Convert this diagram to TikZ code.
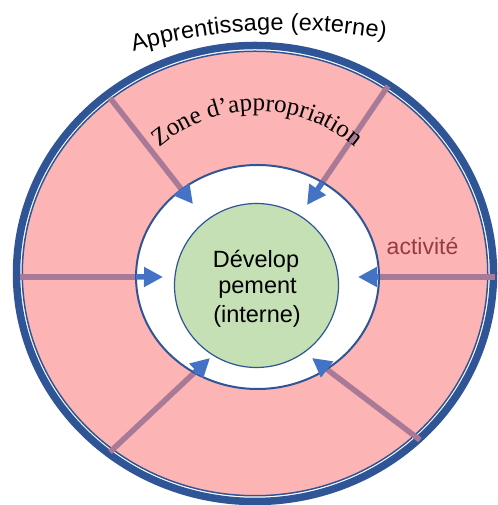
\documentclass[tikz,border=0pt]{standalone}
\usepackage{fontspec}
\setmainfont{Liberation Sans}
\newfontfamily\seriffont{Liberation Serif}
\usetikzlibrary{arrows.meta,decorations.text,intersections,calc}
\definecolor{pinkfill}{RGB}{252,180,180}
\definecolor{ringblue}{RGB}{47,85,151}
\definecolor{arrowblue}{RGB}{68,114,196}
\definecolor{spokecol}{RGB}{168,122,152}
\definecolor{greenfill}{RGB}{197,224,180}
\definecolor{acttext}{RGB}{150,60,64}
\begin{document}
\begin{tikzpicture}[x=1pt,y=1pt,
  spoke/.style={draw=spokecol, line width=5.5pt},
  headarrow/.style={draw=arrowblue, line width=5.5pt, -{Triangle[length=19pt,width=19pt]}, fill=arrowblue},
  devtext/.style={font=\fontsize{23.5}{27}\selectfont, text=black, anchor=base, inner sep=0pt},
  acttextstyle/.style={font=\fontsize{23}{27}\selectfont, text=acttext, anchor=base, inner sep=0pt}]
\useasboundingbox (0,0) rectangle (497,505);
% outer ring
\fill[pinkfill] (255,231.5) ellipse [x radius=232.75pt, y radius=222.25pt];
\draw[ringblue, line width=1.5pt] (255,231.5) ellipse [x radius=232.75pt, y radius=222.25pt];
\draw[ringblue, line width=7.5pt] (255,231.5) ellipse [x radius=238.5pt, y radius=228pt];
% spoke ends
\coordinate (o1) at (110,407); \coordinate (t1) at (193,301);
\coordinate (o2) at (388,419); \coordinate (t2) at (307,300);
\coordinate (o3) at (110,53);  \coordinate (t3) at (210,147);
\coordinate (o4) at (420,65);  \coordinate (t4) at (312,147);
\coordinate (o5) at (20,228);  \coordinate (t5) at (163,228);
\coordinate (o6) at (495,228); \coordinate (t6) at (358,228);
\foreach \i in {1,...,6}{
  \draw[spoke, name path global=s\i] (o\i) -- (t\i);
}
% zone (white ring)
\path[name path=zp, fill=white, draw=ringblue, line width=2pt] (257.5,228) ellipse [x radius=121.5pt, y radius=112pt];
\foreach \i in {1,...,6}{
  \path[name intersections={of=zp and s\i, by=e\i}];
  \draw[headarrow] (e\i) -- (t\i);
}
% development circle
\draw[fill=greenfill, draw=ringblue, line width=1.2pt] (256.5,219.5) circle [radius=82pt];
\node[devtext] (d1) at (256,237) {Dévelop};
\node[devtext] (d2) at (257.5,211) {pement};
\node[devtext] (d3) at (257,182) {(interne)};
\node[acttextstyle] (act) at (422.5,250) {activité};
% curved texts
\coordinate (tc) at (285,-75);
\path[decorate, decoration={text along path,
   text={|\fontsize{23.5}{24}\selectfont|Apprentissage (externe)},
   text align={fit to path}}]
   ($(tc)+(106:550pt)$) arc [start angle=106, end angle=79.5, radius=550pt];
\coordinate (zc) at (257,244);
\path[decorate, decoration={text along path,
   text={|\seriffont\fontsize{25}{26}\selectfont|Zone d’appropriation},
   text align=center}]
   ($(zc)+(140:150pt)$) arc [start angle=140, end angle=40, radius=150pt];
\end{tikzpicture}
\end{document}
